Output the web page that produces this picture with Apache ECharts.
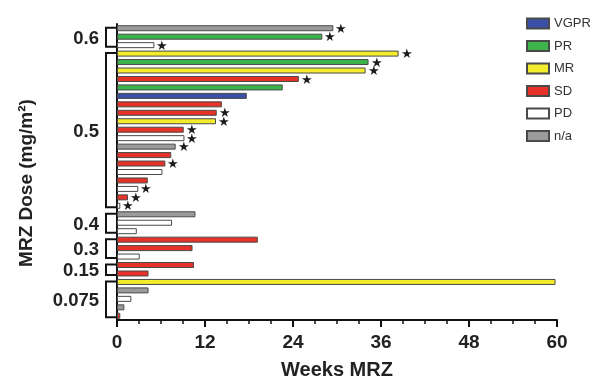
<!DOCTYPE html>
<html><head><meta charset="utf-8">
<script src="https://cdn.jsdelivr.net/npm/echarts@6/dist/echarts.min.js"></script>
<style>html,body{margin:0;padding:0;background:#fff}#c{width:598px;height:379px}</style>
</head><body><div id="c"></div>
<script>
const statusNames = ['VGPR','PR','MR','SD','PD','n/a'];
const statusColors = ['#3a4fa6','#3cb44b','#f3ec2c','#e63228','#ffffff','#9b9b9b'];
const groupLabels = ['0.6','0.5','0.4','0.3','0.15','0.075'];
const groupCounts = [3,19,3,3,2,5];
const weeks = [29.5,28.0,5.1, 38.4,34.3,33.9,24.8,22.6,17.7,14.3,13.6,13.5,9.1,9.2,8.0,7.4,6.6,6.2,4.2,2.9,1.5,0.45, 10.7,7.5,2.7, 19.2,10.3,3.1, 10.5,4.3, 59.8,4.3,1.95,1.0,0.45];
const status = ['n/a','PR','PD', 'MR','PR','MR','SD','PR','VGPR','SD','SD','MR','SD','PD','n/a','SD','SD','PD','SD','PD','SD','PD', 'n/a','PD','PD', 'SD','SD','PD', 'SD','SD', 'MR','n/a','PD','n/a','SD'];
const stars = [1,1,1, 1,1,1,1,0,0,0,1,1,1,1,1,0,1,0,0,1,1,1, 0,0,0, 0,0,0, 0,0, 0,0,0,0,0];
const categories = weeks.map((_, i) => 'P' + (i + 1));
const yTitle = 'MRZ Dose (mg/m²)';

const chart = echarts.init(document.getElementById('c'), null, {renderer: 'canvas'});
const FONT = 'Liberation Sans, Arial, sans-serif';
const series = statusNames.map((name, k) => ({
  name, type: 'bar', barWidth: 6, barGap: '-100%',
  itemStyle: {color: statusColors[k], borderColor: '#4a4a4a', borderWidth: 1},
  label: {show: false, position: 'right', distance: 2, formatter: '★', fontSize: 13, color: '#1a1a1a', offset: [0, 1]},
  data: weeks.map((v, i) => status[i] === name ? {value: v, label: {show: !!stars[i]}} : null),
  animation: false
}));

chart.setOption({
  animation: false,
  grid: {left: 117, right: 41, top: 24, bottom: 59, containLabel: false, outerBoundsMode: 'none'},
  legend: {
    orient: 'vertical', left: 521, top: 12, itemWidth: 22, itemHeight: 10, itemGap: 9.5,
    icon: 'rect',
    textStyle: {fontSize: 13, color: '#333', fontFamily: FONT},
    data: statusNames
  },
  xAxis: {
    type: 'value', min: 0, max: 60, interval: 12,
    axisLine: {show: true, lineStyle: {color: '#111', width: 2}},
    axisTick: {show: true, length: 7, lineStyle: {color: '#111', width: 2}},
    minorTick: {show: true, splitNumber: 4, length: 4, lineStyle: {color: '#111', width: 1.5}},
    splitLine: {show: false},
    axisLabel: {fontSize: 19, fontWeight: 'bold', color: '#222', margin: 13, fontFamily: FONT},
    name: 'Weeks MRZ', nameLocation: 'middle', nameGap: 40,
    nameTextStyle: {fontSize: 20, fontWeight: 'bold', color: '#222', fontFamily: FONT}
  },
  yAxis: {
    type: 'category', data: categories, inverse: true,
    axisLine: {show: true, lineStyle: {color: '#111', width: 2}},
    axisTick: {show: false}, axisLabel: {show: false}
  },
  series
});

// group brackets and dose labels, positioned from the category axis
const axisX = chart.convertToPixel({xAxisIndex: 0}, 0);
const graphics = [];
let start = 0;
groupLabels.forEach((lab, g) => {
  const end = start + groupCounts[g] - 1;
  const y0 = chart.convertToPixel({yAxisIndex: 0}, categories[start]) - 0.5;
  const y1 = chart.convertToPixel({yAxisIndex: 0}, categories[end]) + 1.5;
  const bx = axisX - 11;
  graphics.push({
    type: 'polyline', silent: true,
    shape: {points: [[axisX, y0], [bx, y0], [bx, y1], [axisX, y1]]},
    style: {stroke: '#111', lineWidth: 2, fill: null}
  });
  graphics.push({
    type: 'text', silent: true,
    style: {text: lab, x: bx - 7, y: (y0 + y1) / 2 + 1.5, align: 'right', verticalAlign: 'middle',
      font: 'bold 18.5px ' + FONT, fill: '#222'}
  });
  start = end + 1;
});
graphics.push({
  type: 'text', silent: true, x: 27, y: 183, rotation: Math.PI / 2,
  style: {text: yTitle, x: 0, y: 0, align: 'center', verticalAlign: 'middle',
    font: 'bold 19px ' + FONT, fill: '#222'}
});
chart.setOption({graphic: graphics});
</script></body></html>
